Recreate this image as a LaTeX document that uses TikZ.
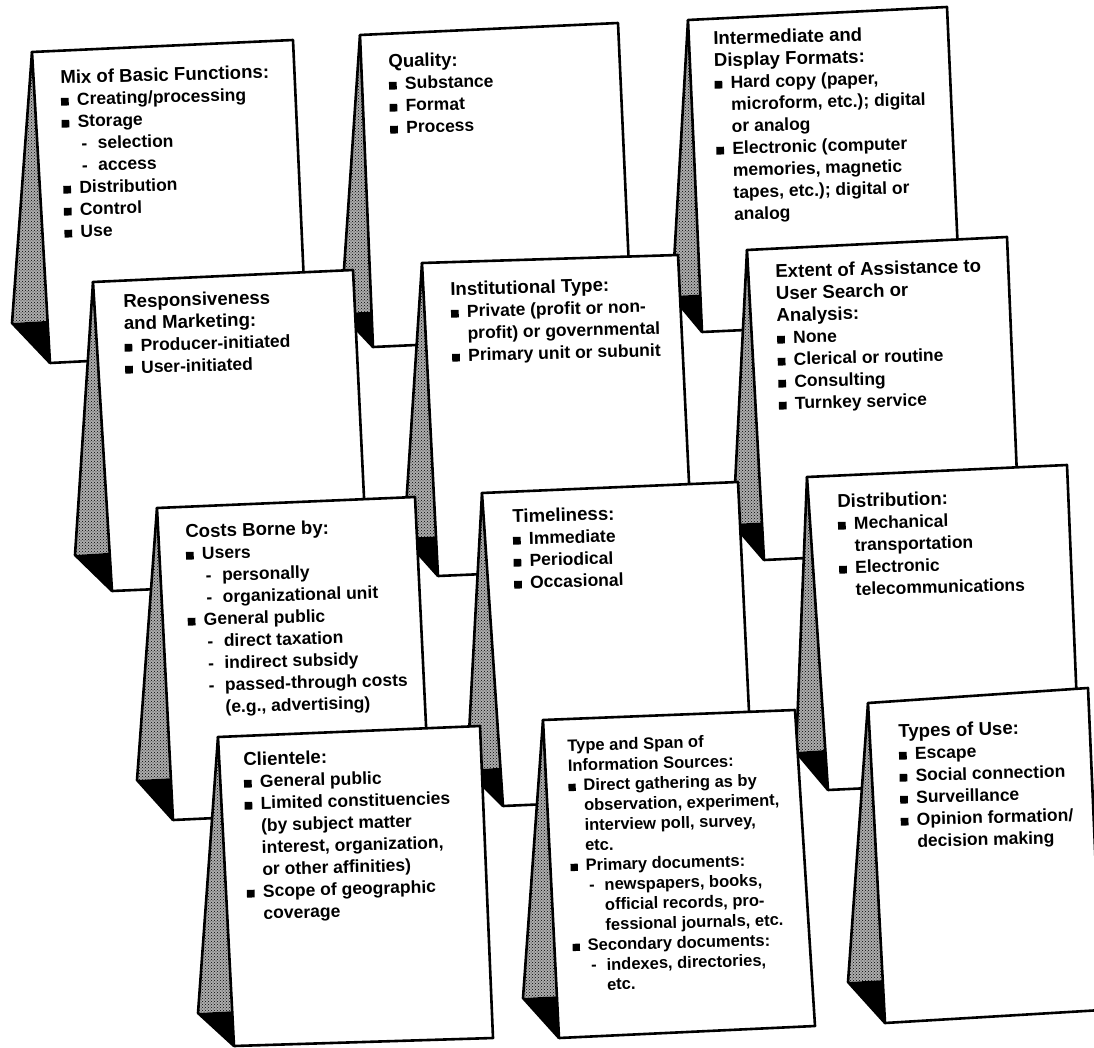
\documentclass[tikz,border=0pt]{standalone}
\usepackage{fontspec}
\setmainfont{Liberation Sans}
\usetikzlibrary{calc,patterns}

% bullets and indents for the card lists
\newcommand\bul{\rule{0.44em}{0.44em}\hspace{0.48em}}
\newcommand\ind{\hspace*{0.92em}}
\newcommand\dsh{\hspace*{1.1em}-\hspace{0.6em}}
\newcommand\dind{\hspace*{2.03em}}
% headings are set a little larger
\newcommand\hd[2][18.6]{{\fontsize{#1}{22}\selectfont #2}}

\begin{document}
\begin{tikzpicture}[x=1pt,y=-1pt,
    side/.style={preaction={fill=black!32},pattern=crosshatch dots},
    edge/.style={line width=2.6pt,line join=round},
    face/.style={draw=black,fill=white,line width=2.6pt,line join=round},
    cardtxt/.style={anchor=north west,align=left,inner sep=0pt,rotate=1.5,
      font=\fontsize{17.5}{22}\selectfont\bfseries}]

  \useasboundingbox (0,0) rectangle (1094,1048);

  %% one tent card: name, top left, top right, bottom right, bottom left, foot of the side
  \newcommand\tentcard[6]{
    \coordinate (#1-tl) at #2;
    \coordinate (#1-tr) at #3;
    \coordinate (#1-br) at #4;
    \coordinate (#1-bl) at #5;
    \coordinate (#1-sb) at #6;
    % where the dark fold meets the front
    \coordinate (#1-q) at ($(#1-tl)!(#1-sb)!(#1-bl)$);
    \fill[side] (#1-tl) -- (#1-sb) -- (#1-q) -- cycle;
    \fill[black] (#1-sb) -- (#1-q) -- (#1-bl) -- cycle;
    \draw[edge] (#1-tl) -- (#1-sb) -- (#1-bl);
    \path[face] (#1-tl) -- (#1-tr) -- (#1-br) -- (#1-bl) -- cycle;
  }

  %% Row 1
  \tentcard{mix}{(32,52)}{(293,40)}{(307,350)}{(50,363)}{(12,323)}
  \tentcard{quality}{(360,35)}{(618,23)}{(632,335)}{(373,347)}{(341,313)}
  \tentcard{formats}{(688,20)}{(947,7)}{(961,320)}{(702,332)}{(672,296)}
  %% Row 2
  \tentcard{respons}{(93,282)}{(353,270)}{(368,580)}{(112,591)}{(75,555)}
  \tentcard{insttype}{(422,263)}{(678,255)}{(693,565)}{(438,576)}{(404,538)}
  \tentcard{assist}{(747,250)}{(1007,237)}{(1020,548)}{(764,560)}{(733,524)}
  %% Row 3
  \tentcard{costs}{(157,508)}{(415,497)}{(430,808)}{(173,820)}{(137,780)}
  \tentcard{timely}{(482,493)}{(738,482)}{(753,795)}{(503,806)}{(467,770)}
  \tentcard{distrib}{(807,477)}{(1067,465)}{(1080,778)}{(828,790)}{(796,752)}
  %% Row 4
  \tentcard{clients}{(218,737)}{(480,726)}{(493,1038)}{(234,1046)}{(198,1013)}
  \tentcard{sources}{(543,720)}{(795,710)}{(815,1026)}{(559,1038)}{(523,998)}
  \tentcard{uses}{(868,703)}{(1088,688)}{(1102,1010)}{(885,1023)}{(848,982)}

  %% Texts on the cards
  \node[cardtxt] (mixtxt) at (60,70) {\hd{Mix of Basic Functions:}\\
    \bul Creating/processing\\
    \bul Storage\\
    \dsh selection\\
    \dsh access\\
    \bul Distribution\\
    \bul Control\\
    \bul Use};
  \node[cardtxt] (qualitytxt) at (388,54) {\hd{Quality:}\\
    \bul Substance\\
    \bul Format\\
    \bul Process};
  \node[cardtxt] (formatstxt) at (713,31) {\hd{Intermediate and}\\
    \hd{Display Formats:}\\
    \bul Hard copy (paper,\\
    \ind microform, etc.); digital\\
    \ind or analog\\
    \bul Electronic (computer\\
    \ind memories, magnetic\\
    \ind tapes, etc.); digital or\\
    \ind analog};
  \node[cardtxt] (responstxt) at (123,294) {\hd{Responsiveness}\\
    \hd{and Marketing:}\\
    \bul Producer-initiated\\
    \bul User-initiated};
  \node[cardtxt] (insttypetxt) at (450,282) {\hd{Institutional Type:}\\
    \bul Private (profit or non-\\
    \ind profit) or governmental\\
    \bul Primary unit or subunit};
  \node[cardtxt] (assisttxt) at (775,264) {\hd{Extent of Assistance to}\\
    \hd{User Search or}\\
    \hd{Analysis:}\\
    \bul None\\
    \bul Clerical or routine\\
    \bul Consulting\\
    \bul Turnkey service};
  \node[cardtxt] (coststxt) at (185,524) {\hd{Costs Borne by:}\\
    \bul Users\\
    \dsh personally\\
    \dsh organizational unit\\
    \bul General public\\
    \dsh direct taxation\\
    \dsh indirect subsidy\\
    \dsh passed-through costs\\
    \dind (e.g., advertising)};
  \node[cardtxt] (timelytxt) at (512,509) {\hd{Timeliness:}\\
    \bul Immediate\\
    \bul Periodical\\
    \bul Occasional};
  \node[cardtxt] (distribtxt) at (837,494) {\hd{Distribution:}\\
    \bul Mechanical\\
    \ind transportation\\
    \bul Electronic\\
    \ind telecommunications};
  \node[cardtxt] (clientstxt) at (243,752) {\hd{Clientele:}\\
    \bul General public\\
    \bul Limited constituencies\\
    \ind (by subject matter\\
    \ind interest, organization,\\
    \ind or other affinities)\\
    \bul Scope of geographic\\
    \ind coverage};
  \node[cardtxt,font=\fontsize{16.5}{20}\selectfont\bfseries] (sourcestxt) at (567,739) {Type and Span of\\
    Information Sources:\\
    \bul Direct gathering as by\\
    \ind observation, experiment,\\
    \ind interview poll, survey,\\
    \ind etc.\\
    \bul Primary documents:\\
    \dsh newspapers, books,\\
    \dind official records, pro-\\
    \dind fessional journals, etc.\\
    \bul Secondary documents:\\
    \dsh indexes, directories,\\
    \dind etc.};
  \node[cardtxt] (usestxt) at (898,724) {\hd{Types of Use:}\\
    \bul Escape\\
    \bul Social connection\\
    \bul Surveillance\\
    \bul Opinion formation/\\
    \ind decision making};

\end{tikzpicture}
\end{document}
